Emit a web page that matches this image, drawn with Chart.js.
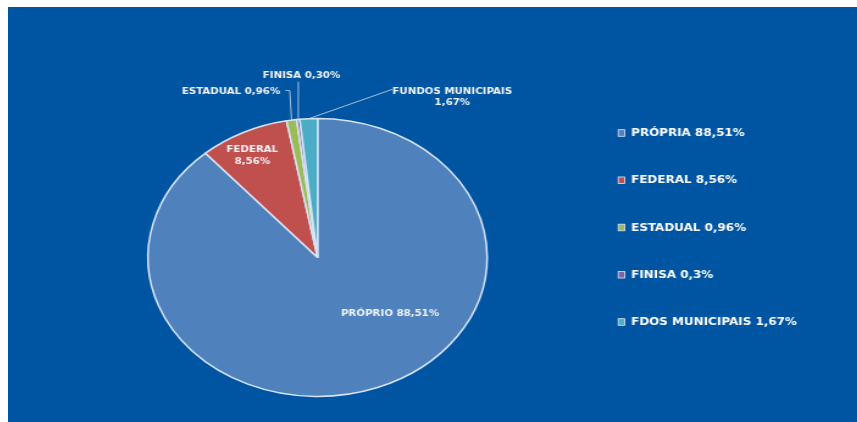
<!DOCTYPE html>
<html><head><meta charset="utf-8">
<script src="https://cdn.jsdelivr.net/npm/chart.js@4.4.1/dist/chart.umd.min.js"></script>
<style>
html,body{margin:0;padding:0;background:#fff;width:857px;height:422px;overflow:hidden;}
#panel{position:absolute;left:8px;top:7px;width:849px;height:415px;background:#0055A3;overflow:hidden;}
#wrap{position:absolute;left:0;top:0;width:696px;height:415px;transform:scaleX(1.22);transform-origin:0 0;}
</style></head><body>
<div id="panel"><div id="wrap"><canvas id="c"></canvas></div></div>
<script>
const categories = ['PRÓPRIO', 'FEDERAL', 'ESTADUAL', 'FINISA', 'FUNDOS MUNICIPAIS'];
const values = [88.51, 8.56, 0.96, 0.30, 1.67];
const legendLabels = ['PRÓPRIA 88,51%', 'FEDERAL 8,56%', 'ESTADUAL 0,96%', 'FINISA 0,3%', 'FDOS MUNICIPAIS 1,67%'];
const colors = ['#4F81BD', '#C0504D', '#9BBB59', '#8064A2', '#4BACC6'];

// label placement relative to pie centre (canvas units, before horizontal stretch)
const labelLayout = [
  {dx: 59.4, dy: 56.8, align: 'center', split: false},
  {dx: -53.5, dy: -107.5, align: 'center', split: true, lh: 11.5},
  {dx: -30.7, dy: -165.8, align: 'right', split: false, leader: [[-26.4, -167.2], [-22.8, -166.8]]},
  {dx: -13.2, dy: -181.5, align: 'center', split: false, leader: [[-15.8, -175.8]]},
  {dx: 110.4, dy: -165.8, align: 'center', split: true, lh: 11.5, leader: [[61.3, -168.2]]}
];

const fmt = v => v.toFixed(2).replace('.', ',') + '%';

const labelPlugin = {
  id: 'sliceLabels',
  afterDatasetsDraw(chart) {
    const ctx = chart.ctx;
    const arcs = chart.getDatasetMeta(0).data;
    ctx.save();
    arcs.forEach((arc, i) => {
      const p = arc.getProps(['x', 'y', 'startAngle', 'endAngle', 'outerRadius'], true);
      const L = labelLayout[i];
      const cx = p.x, cy = p.y;
      const lines = L.split ? [categories[i], fmt(values[i])] : [categories[i] + ' ' + fmt(values[i])];
      ctx.font = 'bold 8.4px "DejaVu Sans"';
      ctx.fillStyle = '#F2F4F8';
      ctx.textAlign = L.align;
      ctx.textBaseline = 'middle';
      lines.forEach((t, k) => ctx.fillText(t, cx + L.dx, cy + L.dy + k * (L.lh || 0)));
      if (L.leader) {
        const mid = (p.startAngle + p.endAngle) / 2;
        const ex = cx + Math.cos(mid) * p.outerRadius;
        const ey = cy + Math.sin(mid) * p.outerRadius;
        ctx.strokeStyle = 'rgba(205,215,230,0.9)';
        ctx.lineWidth = 0.9;
        ctx.beginPath();
        ctx.moveTo(cx + L.leader[0][0], cy + L.leader[0][1]);
        for (let k = 1; k < L.leader.length; k++) ctx.lineTo(cx + L.leader[k][0], cy + L.leader[k][1]);
        ctx.lineTo(ex, ey);
        ctx.stroke();
      }
    });
    ctx.restore();
  }
};

const legendPlugin = {
  id: 'sideLegend',
  afterDraw(chart) {
    const ctx = chart.ctx;
    ctx.save();
    const x0 = 500.2, y0 = 126, step = 47.25;
    legendLabels.forEach((t, i) => {
      const y = y0 + i * step;
      ctx.fillStyle = colors[i];
      ctx.fillRect(x0, y - 3.3, 5.3, 6.6);
      ctx.strokeStyle = '#DDE6F2';
      ctx.lineWidth = 0.8;
      ctx.strokeRect(x0, y - 3.3, 5.3, 6.6);
      ctx.font = 'bold 9.8px "DejaVu Sans"';
      ctx.fillStyle = '#FFFFFF';
      ctx.textAlign = 'left';
      ctx.textBaseline = 'middle';
      ctx.fillText(t, 510.7, y + 0.5);
    });
    ctx.restore();
  }
};

new Chart(document.getElementById('c'), {
  type: 'pie',
  data: {
    labels: categories,
    datasets: [{
      data: values,
      backgroundColor: colors,
      borderColor: '#D6E4F5',
      borderWidth: 1.5
    }]
  },
  options: {
    responsive: true,
    maintainAspectRatio: false,
    animation: false,
    layout: {padding: {left: 114, right: 302.5, top: 110.75, bottom: 24.75}},
    plugins: {legend: {display: false}, tooltip: {enabled: false}}
  },
  plugins: [labelPlugin, legendPlugin]
});
</script>
</body></html>
